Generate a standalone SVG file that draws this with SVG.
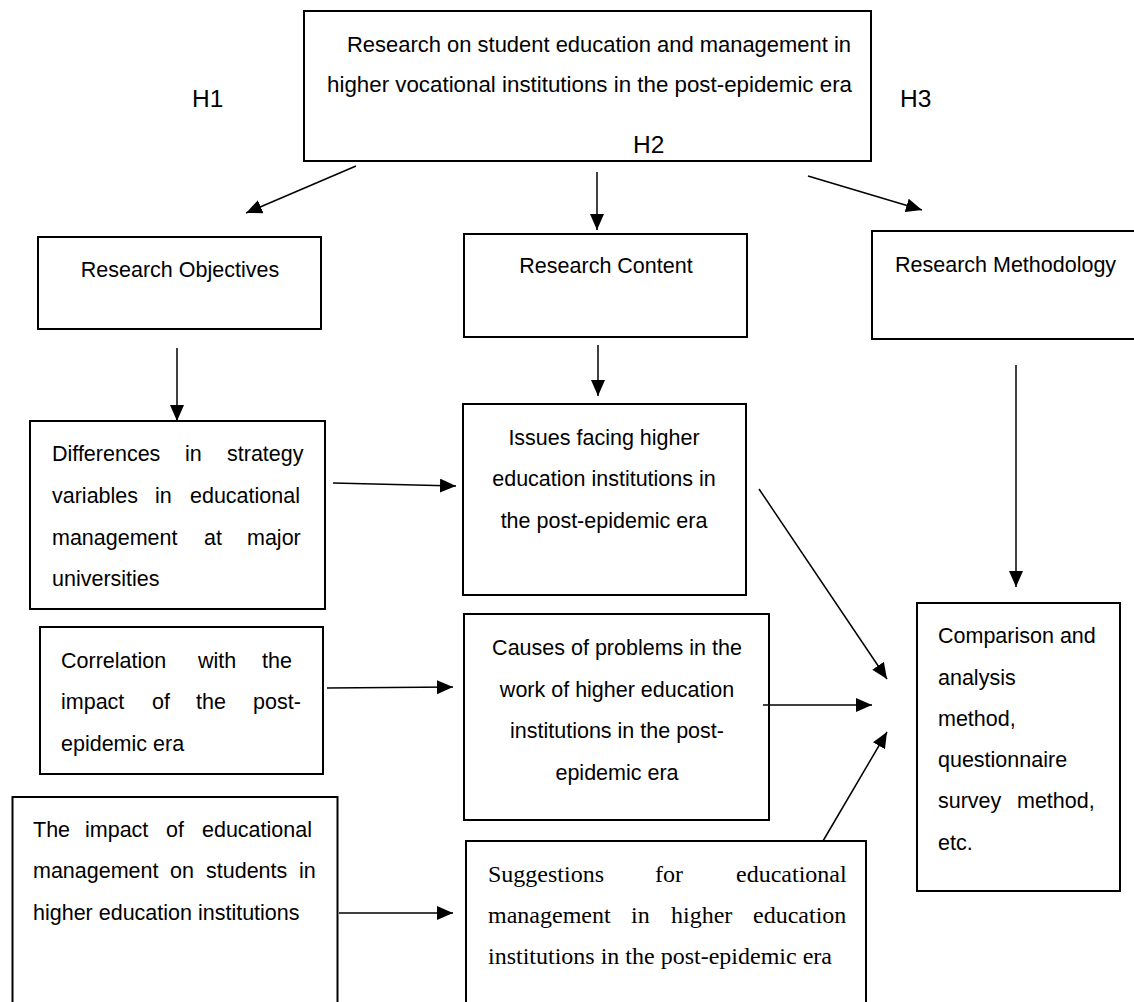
<svg xmlns="http://www.w3.org/2000/svg" width="1134" height="1002" viewBox="0 0 1134 1002">
<style>
.box{fill:#fff;stroke:#000;stroke-width:2}
.t{font-family:"Liberation Sans",Arial,sans-serif;font-size:21.5px;fill:#000}
.c{text-anchor:middle}
.s{font-family:"Liberation Serif","Times New Roman",serif;font-size:24px;fill:#000}
.h{font-family:"Liberation Sans",Arial,sans-serif;font-size:24.5px;fill:#000}
.ln{stroke:#000;stroke-width:1.5;fill:none;marker-end:url(#ah)}
</style>
<defs>
<marker id="ah" markerUnits="userSpaceOnUse" markerWidth="17" markerHeight="15" refX="16" refY="7" orient="auto">
<path d="M0,0 L16,7 L0,14 z" fill="#000"/>
</marker>
</defs>
<rect width="1134" height="1002" fill="#fff"/>

<g id="node-top">
<rect class="box" x="304" y="11" width="567" height="150"/>
<text class="t" x="347" y="52" textLength="504" lengthAdjust="spacingAndGlyphs">Research on student education and management in</text>
<text class="t" x="327" y="92" textLength="525" lengthAdjust="spacingAndGlyphs">higher vocational institutions in the post-epidemic era</text>
</g>

<g id="node-objectives">
<rect class="box" x="38" y="237" width="283" height="92"/>
<text class="t c" x="180" y="277">Research Objectives</text>
</g>

<g id="node-content">
<rect class="box" x="464" y="234" width="283" height="103"/>
<text class="t c" x="606" y="273">Research Content</text>
</g>

<g id="node-methodology">
<rect class="box" x="872" y="231" width="290" height="108"/>
<text class="t" x="895" y="272">Research Methodology</text>
</g>

<g id="node-differences">
<rect class="box" x="30" y="421" width="295" height="188"/>
<text class="t"><tspan x="52" y="461">Differences</tspan><tspan x="185" y="461">in</tspan><tspan x="227" y="461">strategy</tspan></text>
<text class="t"><tspan x="52" y="503">variables</tspan><tspan x="155" y="503">in</tspan><tspan x="190" y="503">educational</tspan></text>
<text class="t"><tspan x="52" y="545">management</tspan><tspan x="204" y="545">at</tspan><tspan x="247" y="545">major</tspan></text>
<text class="t" x="52" y="586">universities</text>
</g>

<g id="node-issues">
<rect class="box" x="463" y="404" width="283" height="191"/>
<text class="t c" x="604" y="445">Issues facing higher</text>
<text class="t c" x="604" y="486">education institutions in</text>
<text class="t c" x="604" y="528">the post-epidemic era</text>
</g>

<g id="node-correlation">
<rect class="box" x="40" y="627" width="283" height="147"/>
<text class="t"><tspan x="61" y="668">Correlation</tspan><tspan x="198" y="668">with</tspan><tspan x="262" y="668">the</tspan></text>
<text class="t"><tspan x="61" y="709">impact</tspan><tspan x="152" y="709">of</tspan><tspan x="196" y="709">the</tspan><tspan x="253" y="709">post-</tspan></text>
<text class="t" x="61" y="751">epidemic era</text>
</g>

<g id="node-causes">
<rect class="box" x="464" y="614" width="305" height="206"/>
<text class="t c" x="617" y="655">Causes of problems in the</text>
<text class="t c" x="617" y="697">work of higher education</text>
<text class="t c" x="617" y="738">institutions in the post-</text>
<text class="t c" x="617" y="780">epidemic era</text>
</g>

<g id="node-impact">
<rect class="box" x="12.5" y="797" width="325" height="220"/>
<text class="t"><tspan x="33" y="837">The</tspan><tspan x="85" y="837">impact</tspan><tspan x="166" y="837">of</tspan><tspan x="202" y="837">educational</tspan></text>
<text class="t"><tspan x="33" y="878">management</tspan><tspan x="170" y="878">on</tspan><tspan x="206" y="878">students</tspan><tspan x="299" y="878">in</tspan></text>
<text class="t" x="33" y="920">higher education institutions</text>
</g>

<g id="node-suggestions">
<rect class="box" x="466" y="841" width="400" height="180"/>
<text class="s"><tspan x="488" y="882">Suggestions</tspan><tspan x="655" y="882">for</tspan><tspan x="736" y="882">educational</tspan></text>
<text class="s"><tspan x="488" y="923">management</tspan><tspan x="631" y="923">in</tspan><tspan x="671" y="923">higher</tspan><tspan x="753" y="923">education</tspan></text>
<text class="s" x="488" y="964">institutions in the post-epidemic era</text>
</g>

<g id="node-comparison">
<rect class="box" x="917" y="603" width="203" height="288"/>
<text class="t" x="938" y="643">Comparison and</text>
<text class="t" x="938" y="685">analysis</text>
<text class="t" x="938" y="726">method,</text>
<text class="t" x="938" y="767">questionnaire</text>
<text class="t"><tspan x="938" y="808">survey</tspan><tspan x="1017" y="808">method,</tspan></text>
<text class="t" x="938" y="850">etc.</text>
</g>

<g id="labels">
<text class="h" x="192" y="107">H1</text>
<text class="h" x="633" y="153">H2</text>
<text class="h" x="900" y="107">H3</text>
</g>

<g id="connectors">
<line class="ln" x1="356" y1="166" x2="246" y2="213"/>
<line class="ln" x1="597" y1="172" x2="597" y2="230"/>
<line class="ln" x1="808" y1="176" x2="922" y2="210"/>
<line class="ln" x1="177" y1="348" x2="177" y2="421"/>
<line class="ln" x1="598" y1="345" x2="598" y2="396"/>
<line class="ln" x1="1016" y1="365" x2="1016" y2="587"/>
<line class="ln" x1="333" y1="483" x2="456" y2="486"/>
<line class="ln" x1="327" y1="688" x2="453" y2="687"/>
<line class="ln" x1="339" y1="913" x2="453" y2="913"/>
<line class="ln" x1="759" y1="489" x2="887" y2="679"/>
<line class="ln" x1="763" y1="705" x2="872" y2="705"/>
<line class="ln" x1="823" y1="841" x2="887" y2="732"/>
</g>
</svg>
